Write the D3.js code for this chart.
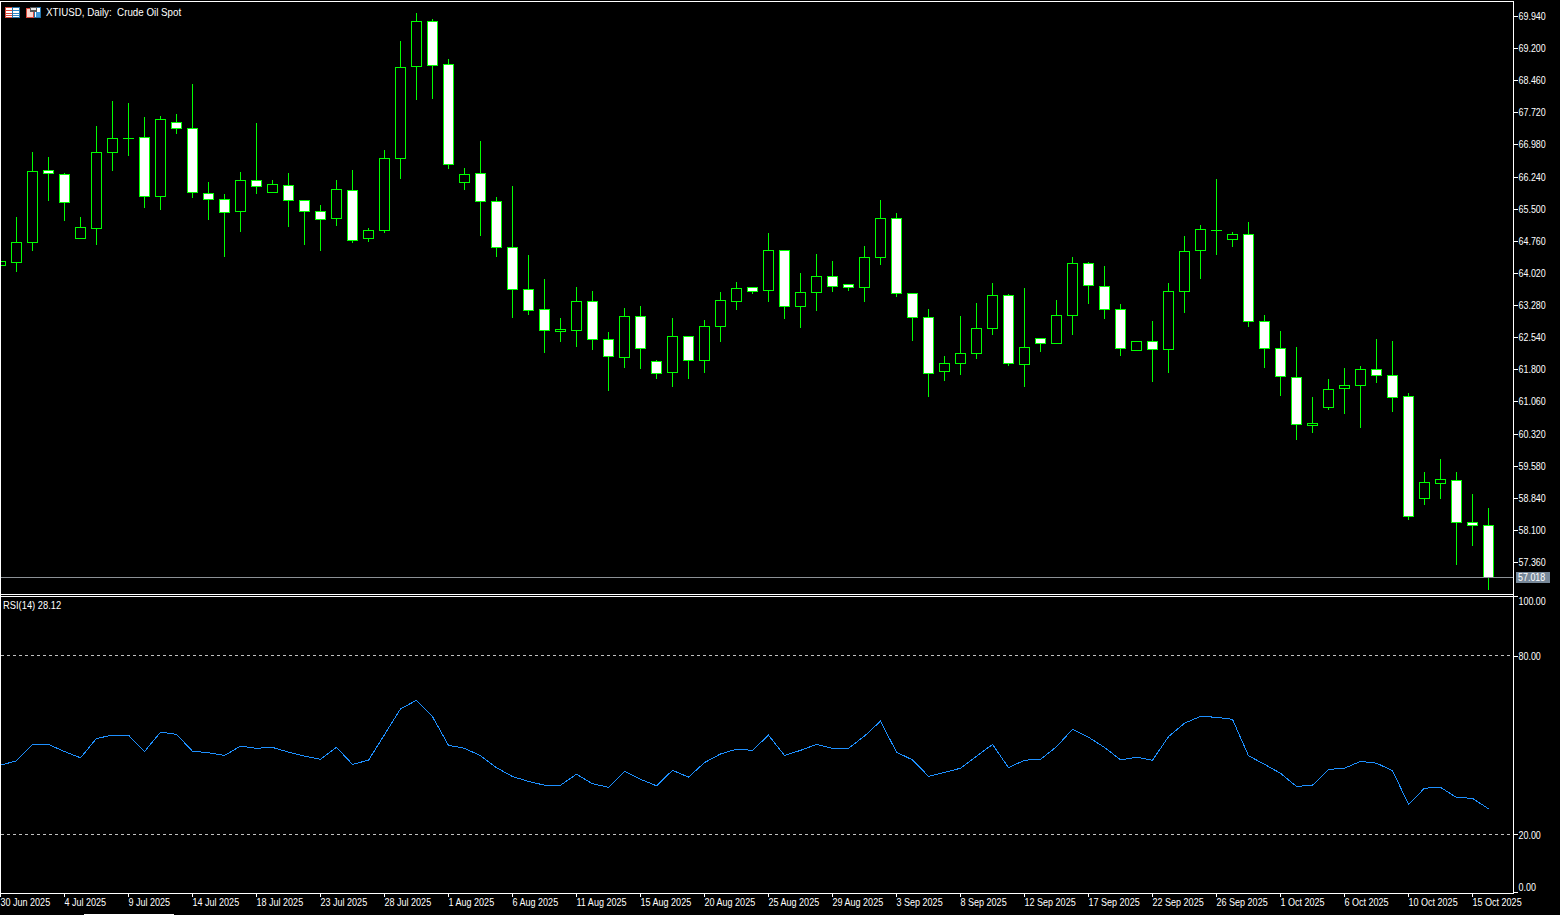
<!DOCTYPE html>
<html><head><meta charset="utf-8">
<script src="https://cdn.jsdelivr.net/npm/d3@7/dist/d3.min.js"></script>
<style>
html,body{margin:0;padding:0;background:#000;overflow:hidden}
text{font-family:"Liberation Sans",sans-serif;font-size:11px;fill:#fff}
</style></head><body><svg id="c" width="1560" height="915"></svg>
<script>
const highs=[64.28,65.30,66.80,66.68,66.31,65.30,67.39,67.97,67.92,67.60,67.62,67.67,68.36,66.10,65.83,66.33,67.46,66.15,66.31,65.69,65.57,66.15,66.38,65.04,66.84,69.35,70.00,69.86,68.94,66.43,67.05,65.76,66.01,64.42,63.87,62.97,63.68,63.59,62.65,63.20,63.25,62.00,62.97,62.56,62.92,63.57,63.80,63.68,64.93,64.54,64.01,64.45,64.28,63.75,64.63,65.69,65.39,63.55,63.18,62.09,63.02,63.32,63.78,63.52,63.66,62.51,63.39,64.38,64.26,64.17,63.29,62.44,62.90,63.78,64.86,65.11,66.17,64.95,65.18,63.04,62.67,62.30,61.15,61.57,61.82,61.86,62.49,62.44,61.24,59.42,59.72,59.42,58.92,58.59];
const lows=[64.19,64.05,64.54,65.69,65.23,64.81,64.68,66.38,66.73,65.53,65.48,67.23,65.76,65.25,64.40,64.97,65.85,65.87,65.09,64.68,64.54,65.11,64.72,64.74,64.95,66.20,68.02,68.04,66.43,65.94,64.88,64.40,62.99,63.06,62.19,62.44,62.32,62.26,61.31,61.84,61.82,61.59,61.40,61.59,61.73,62.44,63.18,63.55,63.36,62.97,62.76,63.16,63.59,63.62,63.36,64.21,63.48,62.46,61.17,61.54,61.68,62.05,62.60,61.89,61.40,62.21,62.39,62.60,63.32,62.97,62.12,62.23,61.52,61.73,63.11,63.89,64.45,64.63,62.79,61.84,61.20,60.18,60.34,60.87,60.78,60.46,61.50,60.83,58.34,58.69,58.82,57.30,57.74,56.73];
const opens=[64.19,64.26,64.72,66.38,66.29,64.81,65.04,66.80,67.12,67.14,65.78,67.49,67.35,65.85,65.71,65.44,66.15,65.87,66.03,65.69,65.44,65.27,65.92,64.81,65.00,66.66,68.78,69.81,68.82,66.10,66.31,65.67,64.61,63.64,63.18,62.67,62.69,63.36,62.49,62.07,63.02,61.98,61.73,62.56,62.00,62.79,63.36,63.68,63.62,64.54,63.25,63.57,63.94,63.75,63.68,64.38,65.27,63.55,62.99,61.75,61.93,62.16,62.74,63.50,61.91,62.51,62.39,63.04,64.24,63.71,63.18,62.23,62.44,62.26,63.59,64.54,65.00,64.79,64.91,62.90,62.28,61.61,60.51,60.92,61.36,61.43,61.80,61.66,61.17,58.82,59.17,59.24,58.27,58.20];
const closes=[64.28,64.72,66.36,66.31,65.64,65.07,66.80,67.12,67.12,65.78,67.56,67.35,65.87,65.71,65.41,66.15,66.01,66.06,65.69,65.44,65.25,65.94,64.77,65.00,66.66,68.75,69.81,68.80,66.52,66.29,65.67,64.61,63.64,63.16,62.69,62.72,63.36,62.49,62.09,63.02,62.28,61.70,62.56,62.00,62.79,63.39,63.66,63.59,64.54,63.25,63.57,63.94,63.71,63.68,64.38,65.27,63.55,62.99,61.70,61.93,62.16,62.74,63.50,61.93,62.30,62.39,63.04,64.24,63.73,63.18,62.28,62.44,62.26,63.59,64.51,65.02,65.00,64.91,62.90,62.28,61.63,60.53,60.55,61.33,61.43,61.80,61.66,61.15,58.41,59.19,59.26,58.27,58.20,57.00];
const rsiValues=[43.2,44.7,50.2,50.2,47.8,45.7,52.2,53.3,53.3,47.8,54.3,53.6,47.9,47.4,46.5,49.6,48.9,49.2,47.6,46.3,45.2,49.2,43.5,44.9,53.5,62.1,65.0,59.5,49.9,48.9,46.4,42.4,39.4,37.8,36.5,36.5,40.2,37.0,35.8,41.2,38.5,36.3,41.5,39.2,44.1,47.0,48.6,48.2,53.3,46.5,48.2,50.2,48.9,48.9,53.0,58.0,47.6,45.0,39.5,40.8,42.2,46.2,50.2,42.4,44.9,45.2,49.4,55.3,52.6,49.2,45.0,45.9,44.9,52.8,57.3,59.6,59.3,58.6,46.4,43.5,40.5,36.1,36.5,41.8,42.2,44.5,43.9,41.4,30.1,35.5,35.8,32.4,32.1,28.6];
const priceTicks=[69.94,69.20,68.46,67.72,66.98,66.24,65.50,64.76,64.02,63.28,62.54,61.80,61.06,60.32,59.58,58.84,58.10,57.36];
const rsiTicks=[100,80,20,0];
const rsiLevels=[80,20];
const dateLabels=["30 Jun 2025","4 Jul 2025","9 Jul 2025","14 Jul 2025","18 Jul 2025","23 Jul 2025","28 Jul 2025","1 Aug 2025","6 Aug 2025","11 Aug 2025","15 Aug 2025","20 Aug 2025","25 Aug 2025","29 Aug 2025","3 Sep 2025","8 Sep 2025","12 Sep 2025","17 Sep 2025","22 Sep 2025","26 Sep 2025","1 Oct 2025","6 Oct 2025","10 Oct 2025","15 Oct 2025"];
const lastPrice=57.018, title="XTIUSD, Daily:  Crude Oil Spot", rsiTitle="RSI(14) 28.12";

const W=1560,H=915,axisX=1513,mainBottom=594,subTop=596,timeY=893;
const GREEN="#00ff00",WHITE="#ffffff",LINE="#1e90ff";
const svg=d3.select("#c");
svg.append("rect").attr("width",W).attr("height",H).attr("fill","#000");
const defs=svg.append("defs");
defs.append("clipPath").attr("id","mainClip").append("rect").attr("x",1).attr("y",2).attr("width",axisX-1).attr("height",mainBottom-2);
defs.append("clipPath").attr("id","subClip").append("rect").attr("x",1).attr("y",subTop+1).attr("width",axisX-1).attr("height",timeY-subTop-1);

const x=d3.scaleLinear().domain([0,93]).range([0.5,1488.5]);
const y=d3.scaleLinear().domain([70.3085,56.48]).range([0,600.2]);
const yR=d3.scaleLinear().domain([0,100]).range([894,596]);
const row=p=>Math.round(y(p)-0.5)+0.5;
const idx=d3.range(highs.length);
function squeeze(sel,ratio){sel.each(function(){const n=this.getComputedTextLength();
  d3.select(this).attr("textLength",n*ratio).attr("lengthAdjust","spacingAndGlyphs");});}

// candles
const cg=svg.append("g").attr("clip-path","url(#mainClip)").attr("shape-rendering","crispEdges");
const candle=cg.selectAll("g").data(idx).join("g");
candle.append("line").attr("x1",i=>x(i)).attr("x2",i=>x(i))
  .attr("y1",i=>row(highs[i])-0.5).attr("y2",i=>row(lows[i])+0.5).attr("stroke",GREEN);
candle.filter(i=>opens[i]===closes[i]).append("line")
  .attr("x1",i=>x(i)-5.5).attr("x2",i=>x(i)+5.5)
  .attr("y1",i=>row(opens[i])).attr("y2",i=>row(opens[i])).attr("stroke",GREEN);
candle.filter(i=>opens[i]!==closes[i]).append("rect")
  .attr("x",i=>x(i)-5).attr("width",10)
  .attr("y",i=>row(Math.max(opens[i],closes[i])))
  .attr("height",i=>row(Math.min(opens[i],closes[i]))-row(Math.max(opens[i],closes[i])))
  .attr("fill",i=>closes[i]>opens[i]?"#000":WHITE).attr("stroke",GREEN);

// last price line
const lastRow=Math.ceil(y(lastPrice))+0.5;
svg.append("line").attr("x1",1).attr("x2",axisX).attr("y1",lastRow).attr("y2",lastRow)
  .attr("stroke","#8c9196").attr("shape-rendering","crispEdges");

// RSI
const sg=svg.append("g").attr("clip-path","url(#subClip)");
sg.selectAll("line").data(rsiLevels).join("line")
  .attr("x1",1).attr("x2",axisX).attr("y1",d=>Math.floor(yR(d))+0.5).attr("y2",d=>Math.floor(yR(d))+0.5)
  .attr("stroke","#c0c0c0").attr("stroke-dasharray","3,3").attr("shape-rendering","crispEdges");
sg.append("path").datum(idx)
  .attr("d",d3.line().x(i=>x(i)).y(i=>yR(rsiValues[i])))
  .attr("fill","none").attr("stroke",LINE).attr("stroke-width",1).attr("shape-rendering","crispEdges");

// frames
const frame=svg.append("g").attr("stroke",WHITE).attr("shape-rendering","crispEdges");
[[0,1.5,axisX,1.5],[0.5,1,0.5,timeY],[0,mainBottom+.5,axisX,mainBottom+.5],[0,subTop+.5,axisX,subTop+.5],[0,timeY+.5,axisX+1,timeY+.5],[axisX+.5,1,axisX+.5,timeY+1]]
 .forEach(a=>frame.append("line").attr("x1",a[0]).attr("y1",a[1]).attr("x2",a[2]).attr("y2",a[3]));
svg.append("rect").attr("x",84).attr("y",914).attr("width",90).attr("height",1).attr("fill",WHITE);

// axes
function style(g){g.select(".domain").remove();g.selectAll("line").attr("stroke",WHITE).attr("shape-rendering","crispEdges");
  g.attr("font-family",null).attr("font-size",null);g.selectAll("text").attr("fill",WHITE);}
const pa=svg.append("g").attr("transform",`translate(${axisX},0)`)
  .call(d3.axisRight(y).tickValues(priceTicks).tickFormat(d3.format(".3f")).tickSize(5).tickPadding(0)).call(style);
pa.selectAll("text").attr("x",5.5).attr("y",-0.5).attr("dy","0.36em").call(squeeze,0.81);
const ra=svg.append("g").attr("transform",`translate(${axisX},0)`)
  .call(d3.axisRight(yR).tickValues(rsiTicks).tickFormat(d3.format(".2f")).tickSize(5).tickPadding(0)).call(style);
ra.selectAll("text").attr("x",5.5).attr("dy","0.36em").call(squeeze,0.81);
ra.selectAll(".tick").filter(d=>d===100).attr("transform","translate(0,596.5)").select("text").attr("y",5);
ra.selectAll(".tick").filter(d=>d===0).attr("transform","translate(0,892)").select("text").attr("y",-4.5);

const xt=d3.scaleLinear().domain([0,92]).range([0,1472]);
const ta=svg.append("g").attr("transform",`translate(0,${timeY})`)
  .call(d3.axisBottom(xt).tickValues(dateLabels.map((d,k)=>k*4)).tickFormat(d=>dateLabels[d/4]).tickSize(4).tickPadding(0)).call(style);
ta.selectAll("text").attr("text-anchor","start").attr("x",0).attr("y",5).attr("dy","0.71em").call(squeeze,0.82);

// price tag
svg.append("rect").attr("x",1516).attr("y",572).attr("width",34).attr("height",11).attr("fill","#778899");
svg.append("text").attr("x",1518).attr("y",577.5).attr("dy","0.36em").text(d3.format(".3f")(lastPrice)).call(squeeze,0.81);

// title
svg.append("text").attr("x",46).attr("y",12).attr("dy","0.36em").style("white-space","pre").text(title).call(squeeze,0.888);
svg.append("text").attr("x",3).attr("y",605).attr("dy","0.36em").text(rsiTitle).call(squeeze,0.85);

// toolbar icons
const ic=svg.append("g").attr("shape-rendering","crispEdges");
const R=(a,b,w,h,f)=>ic.append("rect").attr("x",a).attr("y",b).attr("width",w).attr("height",h).attr("fill",f);
R(5,7,8,11,"#d9483b");R(12,7,8,11,"#2372a8");R(6,8,6,9,"#fff");R(13,8,6,9,"#fff");
[10,13,15].forEach(r=>{R(6,r,6,1,"#d9483b");R(13,r,6,1,"#2f86c4");});
R(26,8,8,10,"#d9483b");R(27,9,6,8,"#fbd5cc");R(34,7,7,11,"#2372a8");R(35,8,5,9,"#fff");R(36,12,4,5,"#3f97d8");R(30,7,7,5,"#555");R(31,8,5,2,"#e8e8e8");
</script></body></html>
